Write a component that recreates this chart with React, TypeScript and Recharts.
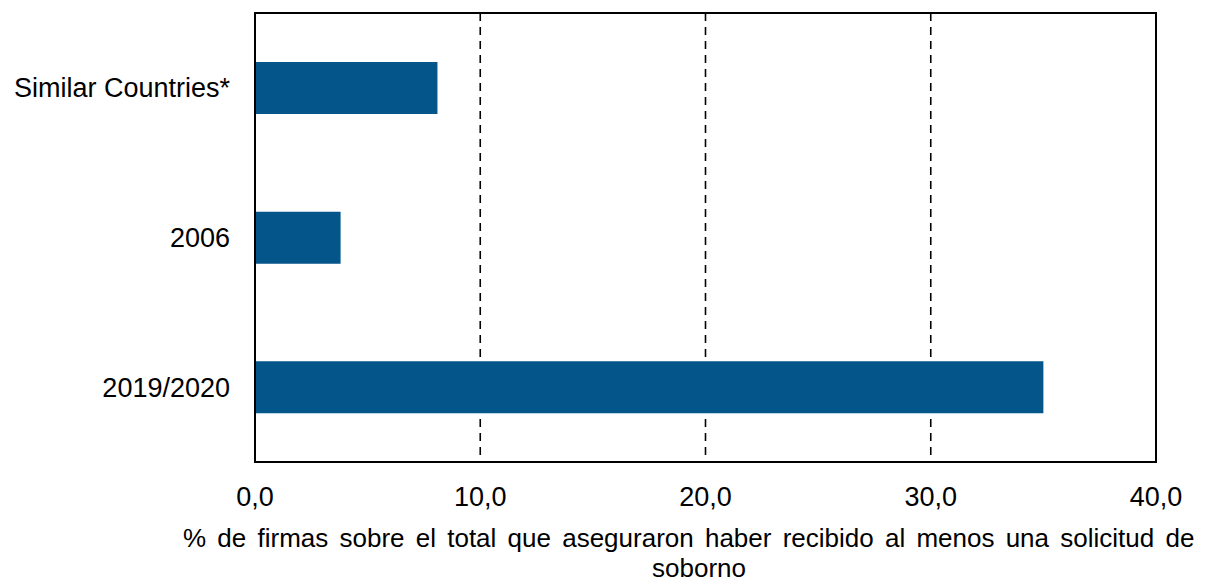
import React from 'react';
import {
  BarChart,
  Bar,
  XAxis,
  YAxis,
  CartesianGrid,
  ReferenceArea,
} from 'recharts';

// Categories top to bottom, with the share of firms (%)
const categories = ['Similar Countries*', '2006', '2019/2020'];
const shares = [8.1, 3.8, 35.0];
const xTicks = [0, 10, 20, 30, 40];
const titleLine1 = '% de firmas sobre el total que aseguraron haber recibido al menos una solicitud de';
const titleLine2 = 'soborno';

const data = categories.map((name, i) => ({ name, value: shares[i] }));

const FONT = '"Liberation Sans", Arial, sans-serif';
const BAR_COLOR = '#03558A';

const fmt = (v: number) => v.toFixed(1).replace('.', ',');

// two-line axis title, first line spread out like the original
const AxisTitle = () => (
  <g>
    <text
      x={183}
      y={547}
      fontFamily={FONT}
      fontSize={26}
      fill="#000"
      style={{ wordSpacing: '4px' }}
    >
      {titleLine1}
    </text>
    <text x={699} y={577} textAnchor="middle" fontFamily={FONT} fontSize={26} fill="#000">
      {titleLine2}
    </text>
  </g>
);

export default function App() {
  return (
    <div style={{ position: 'absolute', left: 0, top: 0, background: '#fff' }}>
      <BarChart
        width={1207}
        height={584}
        data={data}
        layout="vertical"
        margin={{ top: 13, right: 51, bottom: 0, left: 0 }}
        barSize={52}
      >
        <CartesianGrid horizontal={false} stroke="#000" strokeWidth={1.6} strokeDasharray="8 6" />
        <XAxis
          type="number"
          domain={[0, 40]}
          ticks={xTicks}
          tickFormatter={fmt}
          height={122}
          axisLine={{ stroke: '#000', strokeWidth: 2 }}
          tickLine={false}
          tickSize={0}
          tickMargin={25}
          tick={{ fill: '#000', fontFamily: FONT, fontSize: 27 }}
          interval={0}
          label={<AxisTitle />}
        />
        <YAxis
          type="category"
          dataKey="name"
          width={255}
          axisLine={{ stroke: '#000', strokeWidth: 2 }}
          tickLine={false}
          tickSize={0}
          tickMargin={25}
          tick={{ fill: '#000', fontFamily: FONT, fontSize: 27 }}
          interval={0}
        />
        {/* plot frame */}
        <ReferenceArea x1={0} x2={40} fill="none" stroke="#000" strokeWidth={2} fillOpacity={0} />
        <Bar dataKey="value" fill={BAR_COLOR} isAnimationActive={false} />
      </BarChart>
    </div>
  );
}
